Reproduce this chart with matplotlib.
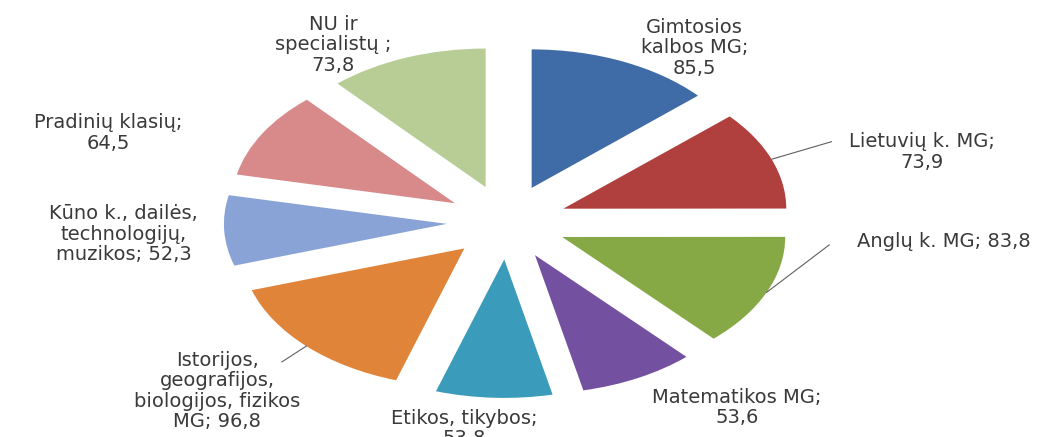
import numpy as np
import matplotlib.pyplot as plt

plt.rcParams['font.family'] = ['DejaVu Sans']

# data
labels = ['Gimtosios\nkalbos MG;\n85,5',
          'Lietuvių k. MG;\n73,9',
          'Anglų k. MG; 83,8',
          'Matematikos MG;\n53,6',
          'Etikos, tikybos;\n53,8',
          'Istorijos,\ngeografijos,\nbiologijos, fizikos\nMG; 96,8',
          'Kūno k., dailės,\ntechnologijų,\nmuzikos; 52,3',
          'Pradinių klasių;\n64,5',
          'NU ir\nspecialistų ;\n73,8']
values = [85.5, 73.9, 83.8, 53.6, 53.8, 96.8, 52.3, 64.5, 73.8]
colors = ['#3F6BA6', '#B0403E', '#86A845', '#7350A0', '#3B9BBB',
          '#E0843A', '#8AA3D6', '#D88A8A', '#B8CC95']

# where the labels sit (data coords), and which have a leader line
label_pos = [(0.84, 1.26), (1.86, 0.505), (1.96, -0.144), (1.03, -1.34),
             (-0.19, -1.49), (-1.30, -1.22), (-1.72, -0.087), (-1.79, 0.643),
             (-0.78, 1.28)]
leader_end = {1: (1.455, 0.58), 2: (1.445, -0.165), 5: (-1.01, -1.01)}

fig = plt.figure(figsize=(10.54, 4.37), dpi=100)
ax = fig.add_axes([0, 0, 1, 1])

wedges, _ = ax.pie(values, colors=colors, startangle=90, counterclock=False,
                   explode=[0.27] * len(values), radius=1,
                   wedgeprops=dict(linewidth=0))

# pie in the reference is stretched sideways
ax.set_aspect('auto')
ax.set_xlim(-2.274, 2.453)
ax.set_ylim(-1.552, 1.603)
ax.axis('off')

for i, (lab, (x, y)) in enumerate(zip(labels, label_pos)):
    ax.text(x, y, lab, ha='center', va='center', fontsize=14,
            color='#3a3a3a', linespacing=1.1)
    if i in leader_end:
        w = wedges[i]
        mid = np.deg2rad((w.theta1 + w.theta2) / 2)
        cx, cy = w.center
        sx, sy = cx + np.cos(mid), cy + np.sin(mid)
        ex, ey = leader_end[i]
        ax.plot([sx, ex], [sy, ey], color='#606060', lw=0.8)

fig.savefig('out.png', dpi=100)
